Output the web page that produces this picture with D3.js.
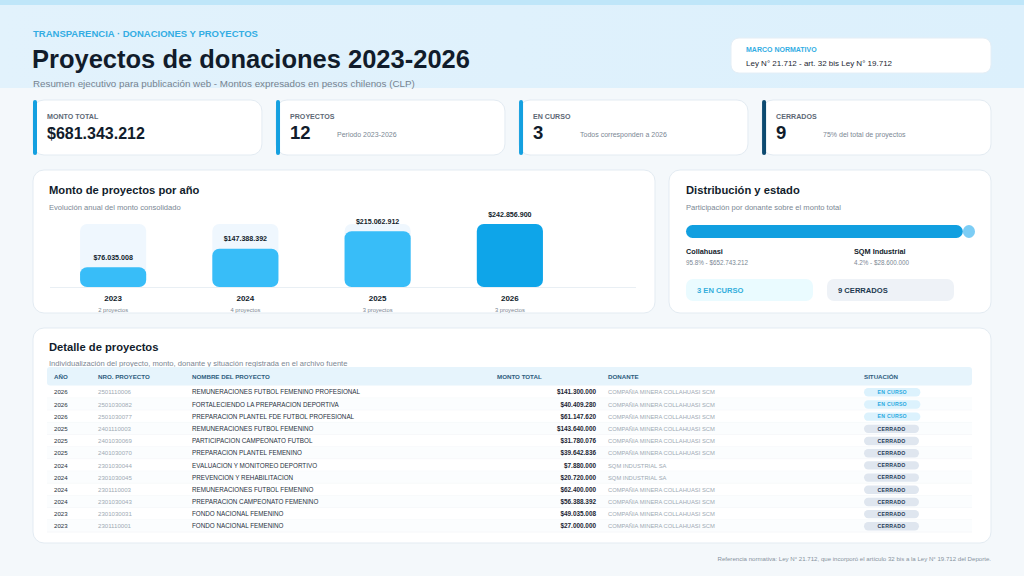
<!DOCTYPE html>
<html>
<head>
<meta charset="utf-8">
<script src="https://cdn.jsdelivr.net/npm/d3@7"></script>
<style>
  html, body { margin: 0; padding: 0; background: #f4f8fb; }
  svg { display: block; font-family: "Liberation Sans", Arial, sans-serif; }
</style>
</head>
<body>
<div id="page"></div>
<script>
// bar chart data
const barYears = [2023, 2024, 2025, 2026];
const barTotals = [76035008, 147388392, 215062912, 242856900];
const barCounts = [2, 4, 3, 3];

// donors share
const donorNames = ['Collahuasi', 'SQM Industrial'];
const donorAmounts = [652743212, 28600000];

// KPI cards
const kpiLabels = ['MONTO TOTAL', 'PROYECTOS', 'EN CURSO', 'CERRADOS'];
const kpiValues = ['$681.343.212', '12', '3', '9'];
const kpiNotes = ['', 'Periodo 2023-2026', 'Todos corresponden a 2026', '75% del total de proyectos'];

// table rows
const rowYears = [2026, 2026, 2026, 2025, 2025, 2025, 2024, 2024, 2024, 2024, 2023, 2023];
const rowNumbers = ['2501110006', '2501030082', '2501030077', '2401110003', '2401030069', '2401030070',
  '2301030044', '2301030045', '2301110003', '2301030043', '2301030031', '2301110001'];
const rowNames = [
  'REMUNERACIONES FUTBOL FEMENINO PROFESIONAL',
  'FORTALECIENDO LA PREPARACION DEPORTIVA',
  'PREPARACION PLANTEL FDE FUTBOL PROFESIONAL',
  'REMUNERACIONES FUTBOL FEMENINO',
  'PARTICIPACION CAMPEONATO FUTBOL',
  'PREPARACION PLANTEL FEMENINO',
  'EVALUACION Y MONITOREO DEPORTIVO',
  'PREVENCION Y REHABILITACION',
  'REMUNERACIONES FUTBOL FEMENINO',
  'PREPARACION CAMPEONATO FEMENINO',
  'FONDO NACIONAL FEMENINO',
  'FONDO NACIONAL FEMENINO'
];
const rowAmounts = [141300000, 40409280, 61147620, 143640000, 31780076, 39642836,
  7880000, 20720000, 62400000, 56388392, 49035008, 27000000];
const rowDonors = ['COMPAÑIA MINERA COLLAHUASI SCM', 'COMPAÑIA MINERA COLLAHUASI SCM', 'COMPAÑIA MINERA COLLAHUASI SCM',
  'COMPAÑIA MINERA COLLAHUASI SCM', 'COMPAÑIA MINERA COLLAHUASI SCM', 'COMPAÑIA MINERA COLLAHUASI SCM',
  'SQM INDUSTRIAL SA', 'SQM INDUSTRIAL SA', 'COMPAÑIA MINERA COLLAHUASI SCM', 'COMPAÑIA MINERA COLLAHUASI SCM',
  'COMPAÑIA MINERA COLLAHUASI SCM', 'COMPAÑIA MINERA COLLAHUASI SCM'];
const rowStatus = ['EN CURSO', 'EN CURSO', 'EN CURSO', 'CERRADO', 'CERRADO', 'CERRADO',
  'CERRADO', 'CERRADO', 'CERRADO', 'CERRADO', 'CERRADO', 'CERRADO'];
const tableHeaders = ['AÑO', 'NRO. PROYECTO', 'NOMBRE DEL PROYECTO', 'MONTO TOTAL', 'DONANTE', 'SITUACIÓN'];

const clp = d3.formatLocale({ decimal: ',', thousands: '.', grouping: [3], currency: ['$', ''] }).format('$,.0f');
const pct = d3.format('.1f');

const W = 1024, H = 576;
const svg = d3.select('#page').append('svg').attr('width', W).attr('height', H);

const dark = '#111c2b';
const gray = '#7b8794';

// background
svg.append('rect').attr('width', W).attr('height', H).attr('fill', '#f4f8fb');
const grad = svg.append('defs').append('linearGradient').attr('id', 'hdr').attr('x1', 0).attr('x2', 1);
grad.append('stop').attr('offset', 0).attr('stop-color', '#e2f2fc');
grad.append('stop').attr('offset', 1).attr('stop-color', '#dcf0fc');
svg.append('rect').attr('y', 0).attr('width', W).attr('height', 88).attr('fill', 'url(#hdr)');
svg.append('rect').attr('width', W).attr('height', 5).attr('fill', '#bfe6f9');

// header text
svg.append('text').attr('x', 33).attr('y', 37).attr('font-size', 9.5).attr('font-weight', 700)
  .attr('fill', '#33ade3').text('TRANSPARENCIA · DONACIONES Y PROYECTOS');
svg.append('text').attr('x', 32).attr('y', 68).attr('font-size', 25.5).attr('font-weight', 700)
  .attr('fill', dark).text('Proyectos de donaciones 2023-2026');
svg.append('text').attr('x', 33).attr('y', 87).attr('font-size', 9.8).attr('fill', '#76828f')
  .text('Resumen ejecutivo para publicación web - Montos expresados en pesos chilenos (CLP)');

// marco normativo box
svg.append('rect').attr('x', 731).attr('y', 38).attr('width', 260).attr('height', 35).attr('rx', 8)
  .attr('fill', '#fff').attr('stroke', '#e4eef6');
svg.append('text').attr('x', 746).attr('y', 52).attr('font-size', 7).attr('font-weight', 700)
  .attr('fill', '#33ade3').text('MARCO NORMATIVO');
svg.append('text').attr('x', 746).attr('y', 66).attr('font-size', 8).attr('fill', '#1d2733')
  .text('Ley N° 21.712 - art. 32 bis Ley N° 19.712');

// card helper
function card(x, y, w, h) {
  return svg.append('rect').attr('x', x).attr('y', y).attr('width', w).attr('height', h).attr('rx', 11)
    .attr('fill', '#fff').attr('stroke', '#e3ebf2');
}

// KPI cards
const kpiX = d3.scaleBand().domain(d3.range(4)).range([33, 991]).paddingInner(0.058);
kpiLabels.forEach((label, i) => {
  const x = kpiX(i);
  card(x, 100, kpiX.bandwidth(), 55);
  svg.append('rect').attr('x', x).attr('y', 100).attr('width', 4).attr('height', 55).attr('rx', 2)
    .attr('fill', i === 3 ? '#0d4a70' : '#14a0e0');
  svg.append('text').attr('x', x + 14).attr('y', 119).attr('font-size', 7.1).attr('font-weight', 700)
    .attr('fill', '#5d6875').text(label);
  svg.append('text').attr('x', x + 14).attr('y', 139).attr('font-size', i === 0 ? 16 : 18.5)
    .attr('font-weight', 700).attr('fill', dark).text(kpiValues[i]);
  if (kpiNotes[i]) {
    svg.append('text').attr('x', x + 61).attr('y', 137).attr('font-size', 7).attr('fill', gray).text(kpiNotes[i]);
  }
});

// bar chart panel
card(33, 170, 622, 143);
svg.append('text').attr('x', 49).attr('y', 194).attr('font-size', 11.2).attr('font-weight', 700)
  .attr('fill', dark).text('Monto de proyectos por año');
svg.append('text').attr('x', 49).attr('y', 210).attr('font-size', 7.6).attr('fill', gray)
  .text('Evolución anual del monto consolidado');

const xBar = d3.scaleBand().domain(barYears).range([47, 576]).paddingInner(0.5).paddingOuter(0.25);
const yBar = d3.scaleLinear().domain([0, d3.max(barTotals)]).range([287, 224]);
const bw = xBar.bandwidth();

svg.append('line').attr('x1', 50).attr('x2', 636).attr('y1', 287.5).attr('y2', 287.5)
  .attr('stroke', '#e9eff4');

const barG = svg.append('g').selectAll('g').data(barYears).enter().append('g');
barG.append('rect')
  .attr('x', d => xBar(d)).attr('y', yBar(d3.max(barTotals)))
  .attr('width', bw).attr('height', yBar(0) - yBar(d3.max(barTotals)))
  .attr('rx', 7).attr('fill', '#eff7fe');
barG.append('rect')
  .attr('x', d => xBar(d)).attr('y', (d, i) => yBar(barTotals[i]))
  .attr('width', bw).attr('height', (d, i) => yBar(0) - yBar(barTotals[i]))
  .attr('rx', 7).attr('fill', (d, i) => i === barYears.length - 1 ? '#0ea5e9' : '#38bdf8');
barG.append('text')
  .attr('x', d => xBar(d) + bw / 2).attr('y', (d, i) => yBar(barTotals[i]) - 7.5)
  .attr('text-anchor', 'middle').attr('font-size', 7.1).attr('font-weight', 700).attr('fill', dark)
  .text((d, i) => clp(barTotals[i]));
barG.append('text')
  .attr('x', d => xBar(d) + bw / 2).attr('y', 301)
  .attr('text-anchor', 'middle').attr('font-size', 8).attr('font-weight', 700).attr('fill', dark)
  .text(d => d);
barG.append('text')
  .attr('x', d => xBar(d) + bw / 2).attr('y', 311.5)
  .attr('text-anchor', 'middle').attr('font-size', 5.8).attr('fill', gray)
  .text((d, i) => barCounts[i] + ' proyectos');

// distribution panel
card(669, 170, 322, 143);
svg.append('text').attr('x', 686).attr('y', 194).attr('font-size', 11.2).attr('font-weight', 700)
  .attr('fill', dark).text('Distribución y estado');
svg.append('text').attr('x', 686).attr('y', 210).attr('font-size', 7.6).attr('fill', gray)
  .text('Participación por donante sobre el monto total');

const donorTotal = d3.sum(donorAmounts);
const xShare = d3.scaleLinear().domain([0, donorTotal]).range([686, 975]);
const starts = d3.cumsum([0].concat(donorAmounts));
svg.append('g').selectAll('rect').data(donorAmounts).enter().append('rect')
  .attr('x', (d, i) => xShare(starts[i]))
  .attr('y', 225).attr('height', 13).attr('rx', 6.5)
  .attr('width', d => xShare(d) - xShare(0))
  .attr('fill', (d, i) => i === 0 ? '#119fe0' : '#7ccdf5');

const labelX = [686, 854];
donorNames.forEach((name, i) => {
  svg.append('text').attr('x', labelX[i]).attr('y', 253.5).attr('font-size', 7.3).attr('font-weight', 700)
    .attr('fill', dark).text(name);
  svg.append('text').attr('x', labelX[i]).attr('y', 265).attr('font-size', 6.3).attr('fill', gray)
    .text(pct(donorAmounts[i] / donorTotal * 100) + '% - ' + clp(donorAmounts[i]));
});

const nCurso = rowStatus.filter(s => s === 'EN CURSO').length;
const nCerrado = rowStatus.filter(s => s === 'CERRADO').length;
svg.append('rect').attr('x', 686).attr('y', 279).attr('width', 127).attr('height', 22).attr('rx', 7)
  .attr('fill', '#eafbff');
svg.append('text').attr('x', 697).attr('y', 293).attr('font-size', 7.6).attr('font-weight', 700)
  .attr('fill', '#34aedc').text(nCurso + ' EN CURSO');
svg.append('rect').attr('x', 827).attr('y', 279).attr('width', 127).attr('height', 22).attr('rx', 7)
  .attr('fill', '#eef2f7');
svg.append('text').attr('x', 838).attr('y', 293).attr('font-size', 7.6).attr('font-weight', 700)
  .attr('fill', '#1d3a52').text(nCerrado + ' CERRADOS');

// table panel
card(33, 328, 958, 215);
svg.append('text').attr('x', 49).attr('y', 351).attr('font-size', 11.2).attr('font-weight', 700)
  .attr('fill', dark).text('Detalle de proyectos');
svg.append('text').attr('x', 49).attr('y', 365.5).attr('font-size', 7.6).attr('fill', gray)
  .text('Individualización del proyecto, monto, donante y situación registrada en el archivo fuente');

svg.append('rect').attr('x', 47).attr('y', 367).attr('width', 925).attr('height', 18.5).attr('rx', 3)
  .attr('fill', '#e6f4fc');
const colX = [54, 98, 192, 497, 608, 864];
tableHeaders.forEach((h, i) => {
  svg.append('text').attr('x', colX[i]).attr('y', 378.8).attr('font-size', 6.2).attr('font-weight', 700)
    .attr('fill', '#2e5d7e').text(h);
});

const yRow = d3.scaleBand().domain(d3.range(rowYears.length)).range([386.2, 532.4]);
const rh = yRow.bandwidth();
const rows = svg.append('g').selectAll('g').data(d3.range(rowYears.length)).enter().append('g')
  .attr('transform', d => `translate(0,${yRow(d)})`);
rows.append('rect').attr('x', 47).attr('width', 925).attr('height', rh - 0.6)
  .attr('fill', d => d % 2 ? '#fbfdfe' : '#ffffff');
rows.append('line').attr('x1', 47).attr('x2', 972).attr('y1', rh - 0.3).attr('y2', rh - 0.3)
  .attr('stroke', '#f0f4f7').attr('stroke-width', 0.6);
const ty = rh / 2 + 2.2;
rows.append('text').attr('x', colX[0]).attr('y', ty).attr('font-size', 6.1).attr('fill', '#27313d')
  .text(d => rowYears[d]);
rows.append('text').attr('x', colX[1]).attr('y', ty).attr('font-size', 6.1).attr('fill', '#a0aab4')
  .text(d => rowNumbers[d]);
rows.append('text').attr('x', colX[2]).attr('y', ty).attr('font-size', 6.3).attr('fill', '#27313d')
  .text(d => rowNames[d]);
rows.append('text').attr('x', 596).attr('y', ty).attr('text-anchor', 'end').attr('font-size', 6.4)
  .attr('font-weight', 700).attr('fill', '#1b2533').text(d => clp(rowAmounts[d]));
rows.append('text').attr('x', colX[4]).attr('y', ty).attr('font-size', 5.8).attr('fill', '#a0aab4')
  .text(d => rowDonors[d]);

// status pills sized from their label
const pill = rows.append('g');
pill.append('rect').attr('y', rh / 2 - 4.2).attr('height', 8.4).attr('rx', 4.2)
  .attr('fill', d => rowStatus[d] === 'EN CURSO' ? '#dcf2fd' : '#dfe6ef');
const pillText = pill.append('text').attr('y', rh / 2 + 1.8).attr('text-anchor', 'middle')
  .attr('font-size', 5.2).attr('font-weight', 700).attr('letter-spacing', 0.25)
  .attr('fill', d => rowStatus[d] === 'EN CURSO' ? '#2aa9e0' : '#1f3b57')
  .text(d => rowStatus[d]);
pillText.each(function(d) {
  const w = this.getComputedTextLength() + 27;
  d3.select(this).attr('x', 864 + w / 2);
  d3.select(this.parentNode).select('rect').attr('x', 864).attr('width', w);
});

// footer
svg.append('text').attr('x', 991).attr('y', 561).attr('text-anchor', 'end').attr('font-size', 6.1)
  .attr('fill', '#8793a0')
  .text('Referencia normativa: Ley N° 21.712, que incorporó el artículo 32 bis a la Ley N° 19.712 del Deporte.');
</script>
</body>
</html>
